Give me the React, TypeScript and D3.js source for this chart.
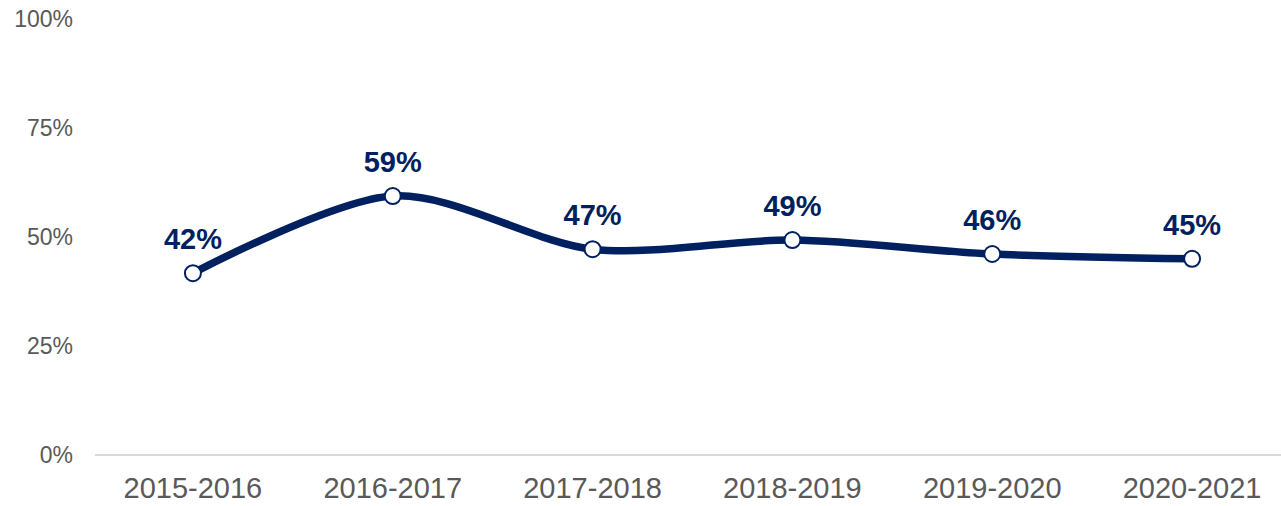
import React from "react";
import * as d3 from "d3";

const categories = ["2015-2016", "2016-2017", "2017-2018", "2018-2019", "2019-2020", "2020-2021"];
const values = [0.417, 0.594, 0.472, 0.493, 0.461, 0.45];
const labels = ["42%", "59%", "47%", "49%", "46%", "45%"];
const yTicks = [0, 0.25, 0.5, 0.75, 1];

const W = 1281;
const H = 506;

export default function App() {
  const x = d3.scaleBand<string>().domain(categories).range([93, 1292]);
  const y = d3.scaleLinear().domain([0, 1]).range([455, 19]);
  const cx = (c: string) => (x(c) as number) + x.bandwidth() / 2;
  const pts = categories.map((c, i) => [cx(c), y(values[i])] as [number, number]);
  const line = d3.line().curve(d3.curveCardinal.tension(0.1))(pts) as string;
  const navy = "#002060";
  const font = "'Liberation Sans', Arial, sans-serif";
  return (
    <svg width={W} height={H} style={{ position: "absolute", left: 0, top: 0, fontFamily: font }}>
      <rect width={W} height={H} fill="#fff" />
      <line x1={95} x2={W} y1={y(0)} y2={y(0)} stroke="#d9d9d9" strokeWidth={2} />
      {yTicks.map((t) => (
        <text key={t} x={73} y={y(t)} dy="0.35em" textAnchor="end" fontSize={23} fill="#595959">
          {d3.format(".0%")(t)}
        </text>
      ))}
      {categories.map((c) => (
        <text key={c} x={cx(c)} y={498} textAnchor="middle" fontSize={29} fill="#595959">
          {c}
        </text>
      ))}
      <path d={line} fill="none" stroke={navy} strokeWidth={7.5} strokeLinecap="round" />
      {pts.map((p, i) => (
        <circle key={i} cx={p[0]} cy={p[1]} r={8} fill="#fff" stroke={navy} strokeWidth={2} />
      ))}
      {pts.map((p, i) => (
        <text key={"l" + i} x={p[0]} y={p[1] - 24} textAnchor="middle" fontSize={29} fontWeight="bold" fill={navy}>
          {labels[i]}
        </text>
      ))}
    </svg>
  );
}
